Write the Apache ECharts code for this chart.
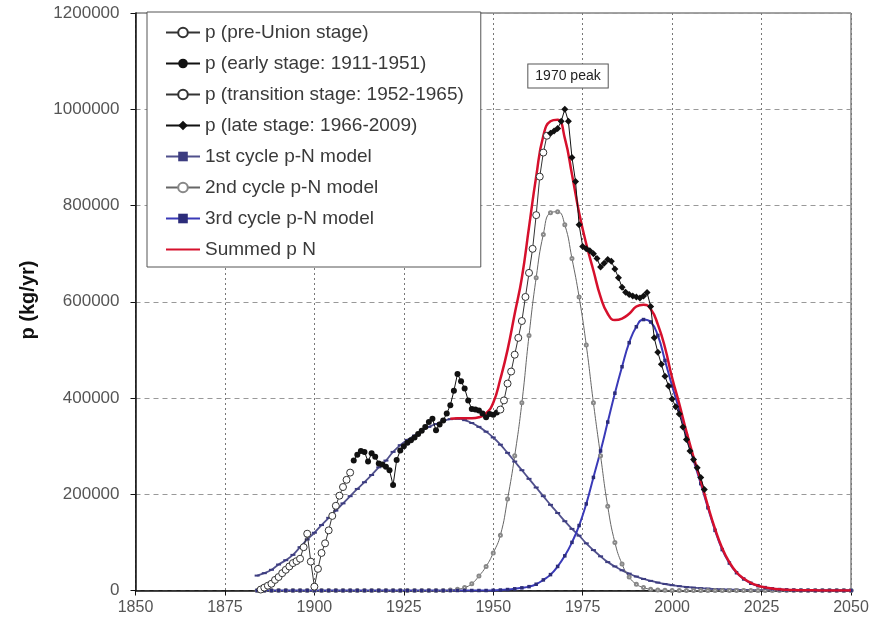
<!DOCTYPE html>
<html>
<head>
<meta charset="utf-8">
<title>p-N model</title>
<script src="https://cdn.jsdelivr.net/npm/echarts@6/dist/echarts.min.js"></script>
<style>
  html, body { margin: 0; padding: 0; background: #fff; }
  #chart { width: 875px; height: 632px; }
</style>
</head>
<body>
<div id="chart"></div>
<script>
// observed production, one value per year
const preUnionStart = 1885;
const preUnion = [2000, 6000, 10000, 14000, 22000, 28000, 36000, 43000, 50000, 57000,
  61000, 66000, 90000, 118000, 60000, 8000, 45000, 78000, 98000, 125000,
  155000, 176000, 197000, 215000, 230000, 245000];

const earlyStart = 1911;
const early = [270000, 282000, 290000, 288000, 268000, 285000, 278000, 264000, 262000, 257000,
  250000, 219000, 271000, 291000, 300000, 307000, 312000, 318000, 325000, 332000,
  340000, 350000, 357000, 333000, 345000, 353000, 368000, 385000, 415000, 450000,
  435000, 420000, 395000, 377000, 376000, 374000, 368000, 360000, 367000, 365000, 370000];

const transitionStart = 1952;
const transition = [376000, 395000, 430000, 455000, 490000, 525000, 560000, 610000, 660000, 710000,
  780000, 860000, 910000, 945000];

const lateStart = 1966;
const late = [950000, 955000, 960000, 975000, 1000000, 975000, 900000, 850000, 760000, 715000,
  710000, 706000, 700000, 690000, 672000, 680000, 688000, 684000, 668000, 650000,
  630000, 620000, 615000, 612000, 610000, 608000, 612000, 619000, 590000, 525000,
  495000, 470000, 445000, 425000, 398000, 382000, 367000, 340000, 314000, 290000,
  272000, 255000, 235000, 210000];

// p-N model curves, every 2 years from 1884 to 2050
const modelStart = 1884;
const cycle1 = [31000, 36000, 43000, 54000, 63000, 74000, 90000, 106000, 120000, 136000,
  151000, 166000, 181000, 196000, 211000, 225000, 240000, 256000, 270000, 288000,
  302000, 313000, 322000, 332000, 340000, 346000, 352000, 356000, 357000, 354000,
  348000, 340000, 330000, 318000, 303000, 286000, 268000, 250000, 232000, 214000,
  196000, 178000, 161000, 144000, 128000, 114000, 98000, 84000, 71000, 59000,
  50000, 42000, 35000, 29000, 24000, 20000, 16500, 13500, 11000, 9000,
  7300, 5900, 4800, 3900, 3100, 2500, 2000, 1600, 1300, 1000,
  800, 650, 500, 400, 320, 250, 200, 160, 130, 100,
  80, 60, 50, 40];
const cycle2 = [0, 0, 0, 0, 0, 0, 0, 0, 0, 0,
  0, 0, 0, 0, 0, 0, 0, 0, 0, 0,
  0, 0, 0, 0, 0, 0, 0, 1000, 2500, 6000,
  14000, 30000, 50000, 78000, 115000, 190000, 280000, 390000, 530000, 650000,
  740000, 785000, 787000, 760000, 690000, 610000, 510000, 390000, 280000, 175000,
  100000, 55000, 28000, 13000, 6000, 2500, 1000, 400, 0, 0,
  0, 0, 0, 0, 0, 0, 0, 0, 0, 0,
  0, 0, 0, 0, 0, 0, 0, 0, 0, 0,
  0, 0, 0, 0];
const cycle3 = [0, 0, 0, 0, 0, 0, 0, 0, 0, 0,
  0, 0, 0, 0, 0, 0, 0, 0, 0, 0,
  0, 0, 0, 0, 0, 0, 0, 0, 0, 0,
  0, 0, 0, 500, 1000, 2000, 3500, 5500, 8000, 13000,
  22000, 33000, 50000, 72000, 100000, 135000, 180000, 235000, 290000, 350000,
  410000, 465000, 515000, 548000, 563000, 558000, 530000, 478000, 425000, 375000,
  322000, 270000, 222000, 172000, 125000, 85000, 57000, 37000, 24000, 15000,
  10000, 6000, 3500, 2000, 1200, 700, 400, 250, 150, 100,
  60, 40, 25, 15];

// summed model, every 2 years from 1938
const summedStart = 1938;
const summed = [357000, 358000, 358000, 358000, 360000, 368000, 390000, 440000, 500000, 575000,
  650000, 755000, 860000, 945000, 975000, 978000, 940000, 865000, 785000, 720000,
  665000, 610000, 575000, 562000, 565000, 575000, 590000, 594000, 585000, 553000,
  505000, 442000, 388000, 330000, 277000, 228000, 176000, 128000, 88000, 59000,
  38000, 25000, 16000, 10000, 6500, 4000, 2400, 1500, 900, 600,
  400, 300, 200, 150, 100, 80, 60];

const names = [
  'p (pre-Union stage)',
  'p (early stage: 1911-1951)',
  'p (transition stage: 1952-1965)',
  'p (late stage: 1966-2009)',
  '1st cycle p-N model',
  '2nd cycle p-N model',
  '3rd cycle p-N model',
  'Summed p N'
];

function pairs(start, step, values) {
  return values.map((v, i) => [start + i * step, v]);
}

const chart = echarts.init(document.getElementById('chart'));

const openStyle = { color: '#fff', borderColor: '#333', borderWidth: 1 };
const font = '"Liberation Sans", Arial, sans-serif';

chart.setOption({
  animation: false,
  textStyle: { fontFamily: font },
  grid: { left: 135.5, right: 24, top: 13, bottom: 41.5, show: true, borderColor: '#444', borderWidth: 1 },
  legend: {
    orient: 'vertical',
    left: 147,
    top: 12,
    padding: [11, 17, 8, 18],
    itemGap: 12,
    itemWidth: 34,
    itemHeight: 12,
    backgroundColor: '#fff',
    borderColor: '#555',
    borderWidth: 1,
    textStyle: { fontSize: 19, color: '#3a3a3a' },
    data: names.map((n, i) => i === 7 ? { name: n, itemStyle: { opacity: 0 } } : n)
  },
  xAxis: {
    type: 'value',
    min: 1850,
    max: 2050,
    interval: 25,
    axisLine: { lineStyle: { color: '#111', width: 1.5 } },
    axisTick: { show: true, length: 5, lineStyle: { color: '#111' } },
    axisLabel: { fontSize: 16, color: '#555', margin: 9, formatter: v => String(v) },
    splitLine: { show: true, lineStyle: { color: '#777', type: [2, 3], width: 1 } }
  },
  yAxis: {
    type: 'value',
    min: 0,
    max: 1200000,
    interval: 200000,
    axisLine: { show: true, lineStyle: { color: '#111', width: 1.5 } },
    axisTick: { show: true, length: 5, lineStyle: { color: '#111' } },
    axisLabel: { fontSize: 17, color: '#555', margin: 16, formatter: v => String(v) },
    splitLine: { show: true, lineStyle: { color: '#999', type: [5, 4], width: 1 } }
  },
  graphic: [{
    type: 'text',
    x: 18,
    y: 300,
    rotation: Math.PI / 2,
    style: {
      text: 'p (kg/yr)', font: 'bold 20px ' + font, fill: '#111',
      align: 'center', verticalAlign: 'top'
    }
  }],
  series: [
    {
      name: names[0], type: 'line', z: 5,
      data: pairs(preUnionStart, 1, preUnion),
      symbol: 'circle', symbolSize: 7,
      itemStyle: openStyle,
      lineStyle: { color: '#333', width: 1 }
    },
    {
      name: names[1], type: 'line', z: 5,
      data: pairs(earlyStart, 1, early),
      symbol: 'circle', symbolSize: 6,
      itemStyle: { color: '#111' },
      lineStyle: { color: '#111', width: 1 }
    },
    {
      name: names[2], type: 'line', z: 5,
      data: pairs(transitionStart, 1, transition),
      symbol: 'circle', symbolSize: 7,
      itemStyle: openStyle,
      lineStyle: { color: '#333', width: 1 }
    },
    {
      name: names[3], type: 'line', z: 5,
      data: pairs(lateStart, 1, late),
      symbol: 'diamond', symbolSize: 7,
      itemStyle: { color: '#111' },
      lineStyle: { color: '#111', width: 1 },
      markPoint: {
        symbol: 'rect', symbolSize: 1,
        itemStyle: { color: 'rgba(0,0,0,0)' },
        label: {
          show: true, position: 'inside', formatter: '1970 peak',
          fontSize: 14, color: '#222', backgroundColor: '#fff',
          borderColor: '#555', borderWidth: 1, padding: [5, 7, 4, 7]
        },
        data: [{ coord: [1970.9, 1069000] }]
      }
    },
    {
      name: names[4], type: 'line', z: 3, smooth: true,
      data: pairs(modelStart, 2, cycle1),
      symbol: 'rect', symbolSize: [5, 2],
      itemStyle: { color: '#3c3c80' },
      lineStyle: { color: '#50508c', width: 1.8 }
    },
    {
      name: names[5], type: 'line', z: 3, smooth: true,
      data: pairs(modelStart, 2, cycle2),
      symbol: 'emptyCircle', symbolSize: 3,
      itemStyle: { color: '#888', borderColor: '#888' },
      lineStyle: { color: '#666', width: 1 }
    },
    {
      name: names[6], type: 'line', z: 3, smooth: true,
      data: pairs(modelStart, 2, cycle3),
      symbol: 'rect', symbolSize: 3.5,
      itemStyle: { color: '#2c2c7a' },
      lineStyle: { color: '#3a3ab8', width: 2 }
    },
    {
      name: names[7], type: 'line', z: 4, smooth: true,
      data: pairs(summedStart, 2, summed),
      symbol: 'none',
      itemStyle: { color: '#d6102c' },
      lineStyle: { color: '#d6102c', width: 2.5 }
    }
  ]
});
</script>
</body>
</html>
